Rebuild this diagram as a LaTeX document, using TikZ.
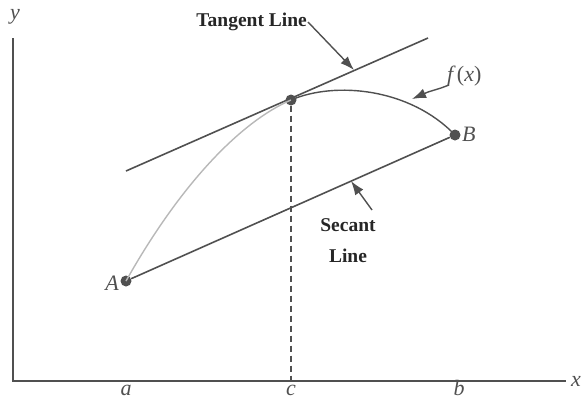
\documentclass[tikz,border=0pt]{standalone}
\usepackage{fontspec}
\setmainfont{Liberation Serif}
\usetikzlibrary{arrows.meta}
\definecolor{ink}{HTML}{505050}
\definecolor{faint}{HTML}{B8B8B8}
\begin{document}
\begin{tikzpicture}[x=1pt,y=-1pt,
  ln/.style={draw=ink,line width=1.6pt},
  dotpt/.style={circle,fill=ink,inner sep=0pt,minimum size=11pt},
  lbl/.style={text=ink,font=\fontsize{22}{24}\selectfont\itshape,inner sep=1pt},
  txt/.style={text=black!85,font=\fontsize{19.5}{31}\selectfont\bfseries,inner sep=1pt,align=center},
  pointer/.style={draw=ink,line width=1.4pt,-{Latex[length=14pt,width=10pt]}}]
\useasboundingbox (0,0) rectangle (584,400);
% axes
\coordinate (O) at (13,381);
\coordinate (ytop) at (13,38);
\coordinate (xend) at (566,381);
\draw[ln] (ytop) -- (O) -- (xend);
\node[lbl] (ylab) at (15,17) {y};
\node[lbl,anchor=west] (xlab) at (570,381) {x};
% points
\node[dotpt] (A) at (126,281) {};
\node[dotpt] (B) at (455,135) {};
\node[dotpt] (C) at (291,100) {};
\node[lbl,anchor=east] (Alab) at (120,283) {A};
\node[lbl,anchor=west] (Blab) at (461,134) {B};
% tangent line
\coordinate (T1) at (126,171);
\coordinate (T2) at (428,38);
\draw[ln] (T1) -- (T2);
% secant line
\draw[ln] (A) -- (B);
% curve
\draw[faint,line width=1.4pt] (A.center) .. controls (180,185) and (240,122) .. (C.center);
\draw[ink,line width=1.4pt] (C.center) .. controls (335,81) and (410,88) .. (B.center);
% dashed vertical
\coordinate (Cx) at (291,381);
\draw[ink,line width=1.4pt,dash pattern=on 6pt off 4pt] (C) -- (Cx);
% tick labels
\node[lbl,anchor=base,inner sep=0pt] (alab) at (126,395) {a};
\node[lbl,anchor=base,inner sep=0pt] (clab) at (291,395) {c};
\node[lbl,anchor=base,inner sep=0pt] (blab) at (459,395) {b};
% Tangent Line label
\node[txt,anchor=east] (tlab) at (308,22) {Tangent Line};
\coordinate (tt) at (354,70);
\draw[pointer] (tlab.east) -- (tt);
% f(x) label
\node[lbl,anchor=west] (flab) at (446,76) {f\,\upshape(\itshape x\upshape)};
\coordinate (f1) at (449,85);
\coordinate (ft) at (412,99);
\draw[pointer] (f1) -- (441,88) -- (428,92) -- (ft);
% Secant Line label
\node[txt] (slab) at (348,241) {Secant\\Line};
\coordinate (s0) at (372,210);
\coordinate (st) at (351,181);
\draw[pointer] (s0) -- (st);
\end{tikzpicture}
\end{document}
